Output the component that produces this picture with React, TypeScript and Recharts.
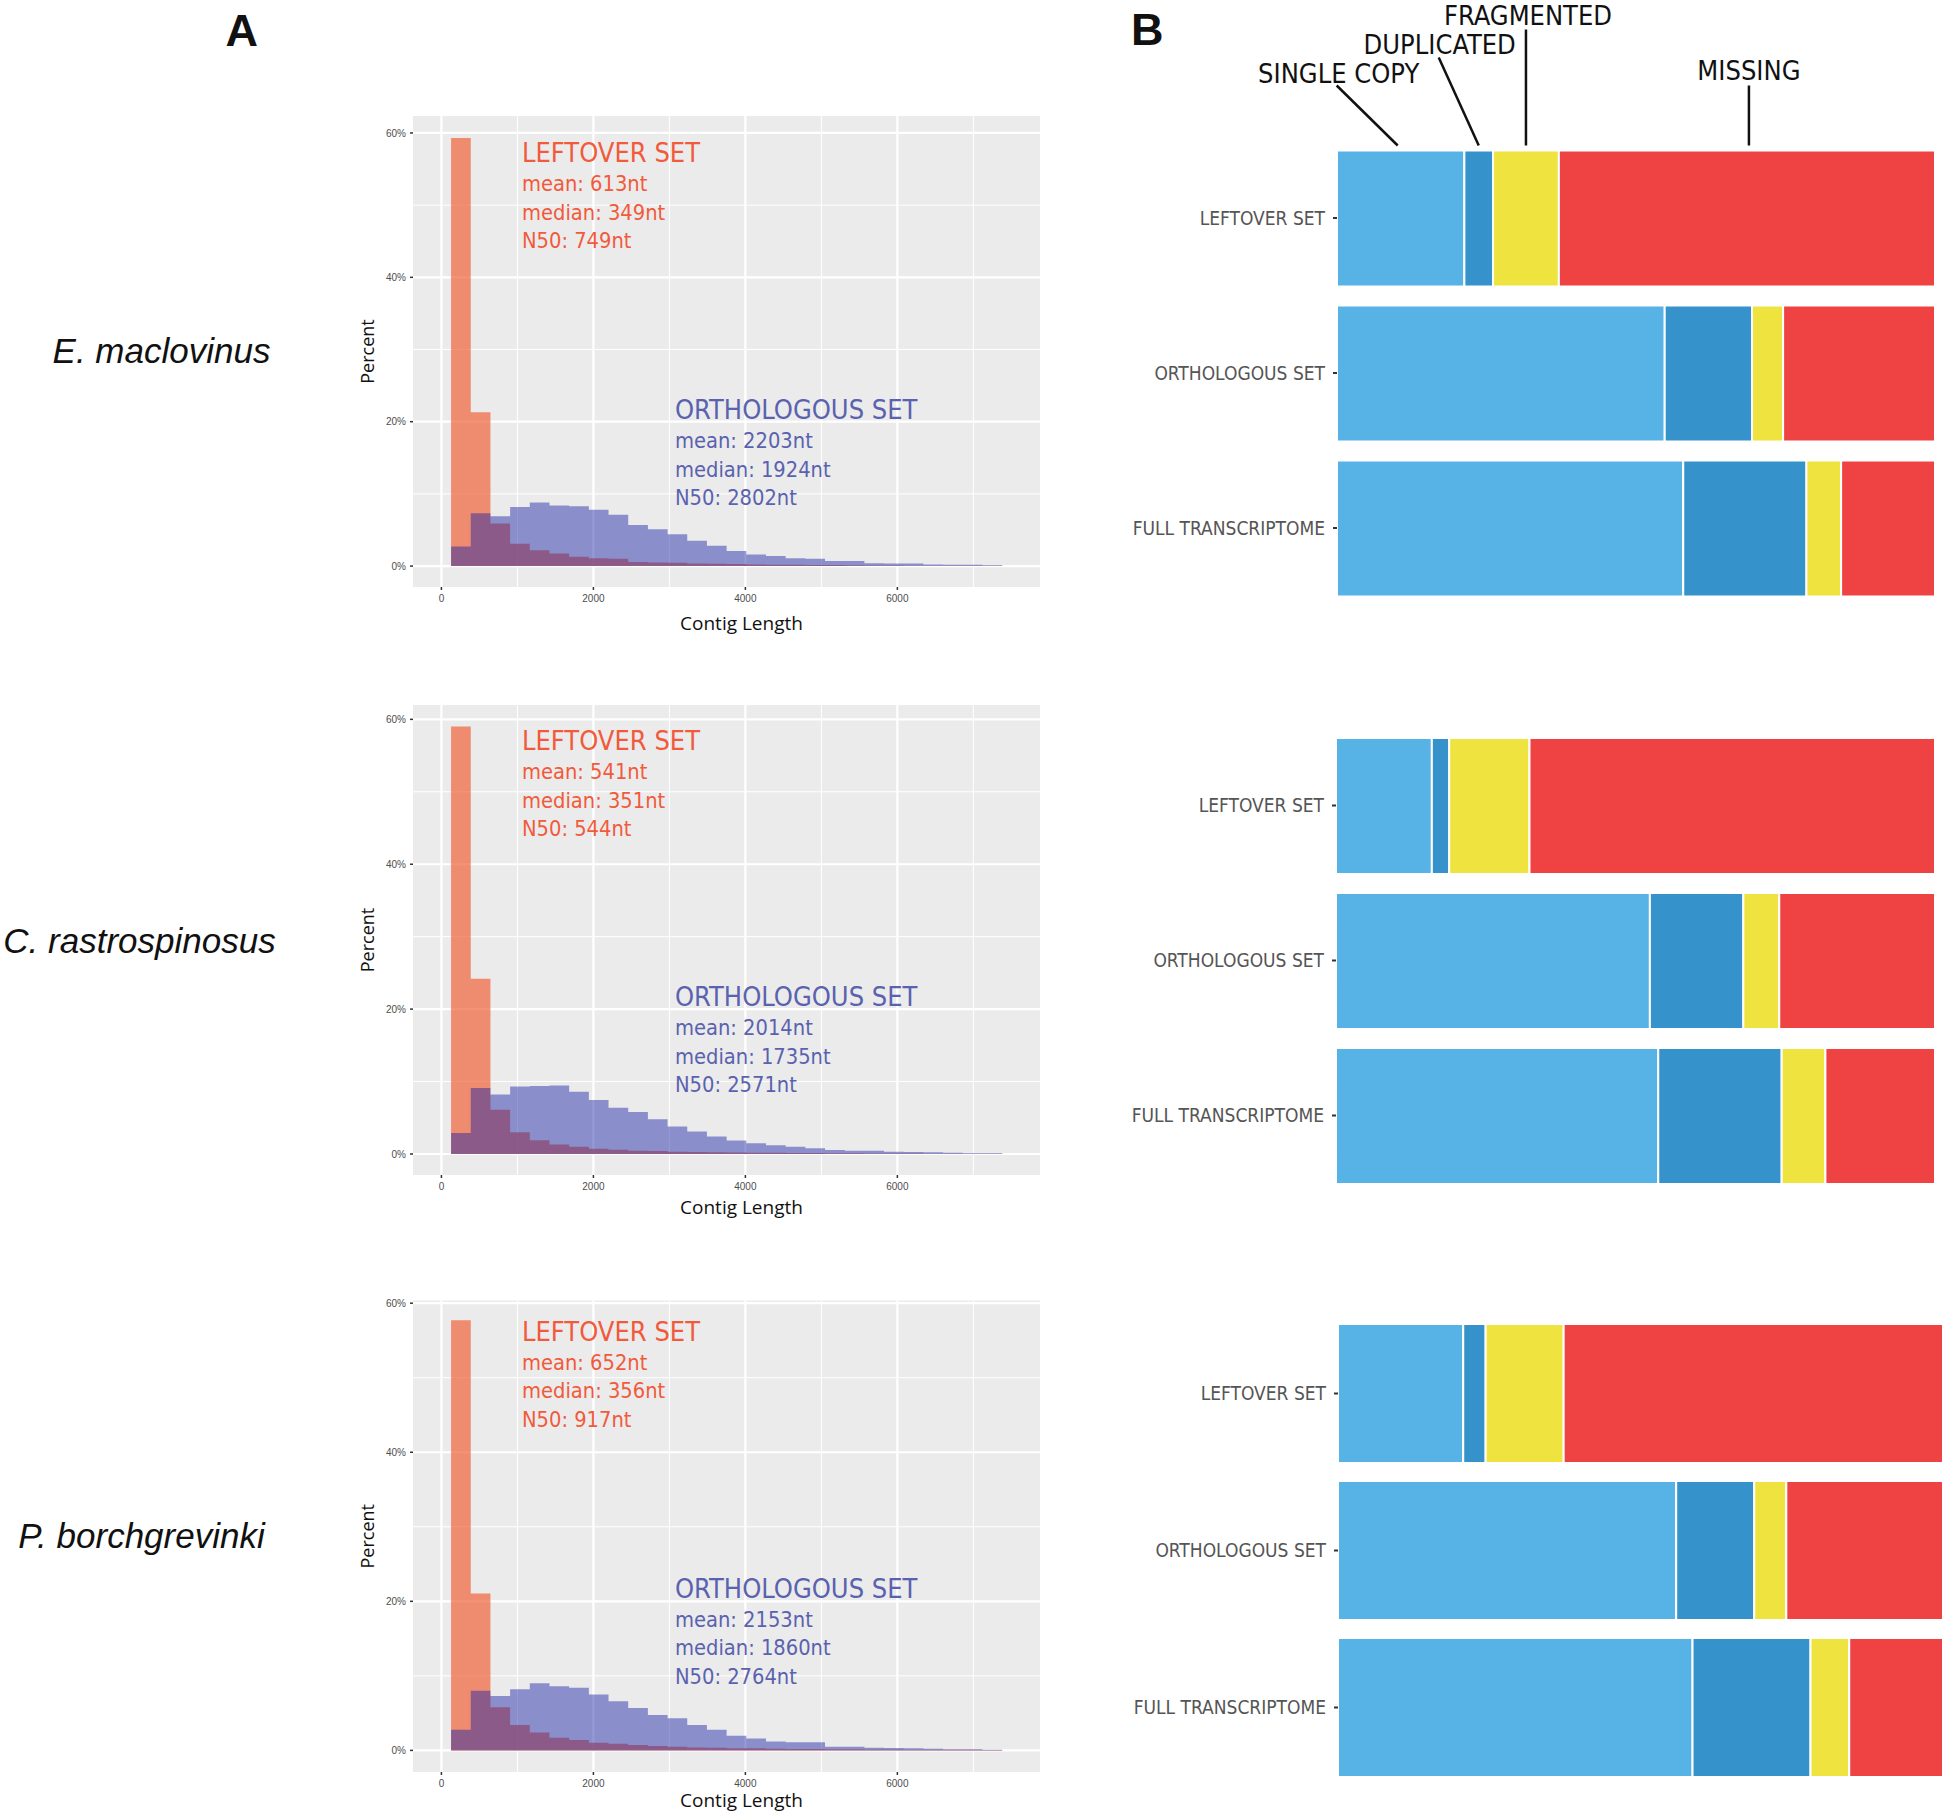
import React from "react";
import {
  Area,
  Bar,
  BarChart,
  CartesianGrid,
  ComposedChart,
  LabelList,
  XAxis,
  YAxis,
} from "recharts";

// histogram bin edges (nt), shared by all three panels
const binEdges = [
  127, 386, 645, 904, 1163, 1422, 1681, 1940, 2199, 2458, 2717, 2976, 3235, 3494,
  3753, 4012, 4271, 4530, 4789, 5048, 5307, 5566, 5825, 6084, 6343, 6602, 6861,
  7120, 7379,
];

// percent of contigs per bin
const emLeftover = [
  59.3, 21.3, 5.9, 3.1, 2.2, 1.75, 1.3, 1.1, 1.0, 0.55, 0.5, 0.45, 0.37, 0.32,
  0.28, 0.23, 0.18, 0.18, 0.14, 0.14, 0.1, 0.08, 0.07, 0.06, 0.05, 0.05, 0.04, 0.03,
];
const emOrtho = [
  2.7, 7.3, 6.9, 8.2, 8.8, 8.4, 8.3, 7.8, 7.1, 5.7, 5.1, 4.4, 3.5, 2.8, 2.1, 1.6,
  1.4, 1.1, 1.0, 0.7, 0.7, 0.4, 0.37, 0.37, 0.23, 0.18, 0.18, 0.1,
];
const crLeftover = [
  59.0, 24.2, 6.1, 3.0, 1.9, 1.3, 1.0, 0.74, 0.6, 0.45, 0.4, 0.32, 0.28, 0.23,
  0.2, 0.18, 0.16, 0.14, 0.12, 0.1, 0.09, 0.08, 0.07, 0.06, 0.05, 0.04, 0.03, 0.03,
];
const crOrtho = [
  2.9, 9.1, 8.2, 9.3, 9.4, 9.45, 8.6, 7.45, 6.4, 5.8, 4.8, 3.8, 3.1, 2.4, 1.85,
  1.5, 1.2, 1.0, 0.78, 0.55, 0.46, 0.46, 0.32, 0.28, 0.23, 0.18, 0.1, 0.1,
];
const pbLeftover = [
  57.7, 21.05, 5.8, 3.4, 2.4, 1.7, 1.4, 1.04, 0.9, 0.72, 0.6, 0.5, 0.4, 0.36, 0.3,
  0.27, 0.22, 0.2, 0.18, 0.16, 0.15, 0.13, 0.12, 0.1, 0.09, 0.08, 0.07, 0.06,
];
const pbOrtho = [
  2.76, 8.0, 7.3, 8.2, 9.0, 8.6, 8.4, 7.5, 6.6, 5.7, 4.75, 4.3, 3.4, 2.76, 1.95,
  1.6, 1.2, 1.1, 1.1, 0.5, 0.5, 0.36, 0.32, 0.27, 0.23, 0.14, 0.14, 0.09,
];

const emLeftoverStats = ["mean: 613nt", "median: 349nt", "N50: 749nt"];
const emOrthoStats = ["mean: 2203nt", "median: 1924nt", "N50: 2802nt"];
const crLeftoverStats = ["mean: 541nt", "median: 351nt", "N50: 544nt"];
const crOrthoStats = ["mean: 2014nt", "median: 1735nt", "N50: 2571nt"];
const pbLeftoverStats = ["mean: 652nt", "median: 356nt", "N50: 917nt"];
const pbOrthoStats = ["mean: 2153nt", "median: 1860nt", "N50: 2764nt"];

const lengthTicks = [0, 2000, 4000, 6000];
const lengthMinor = [1000, 3000, 5000, 7000];
const percentTicks = [0, 20, 40, 60];
const percentMinor = [10, 30, 50];

// BUSCO completeness (%)
const setNames = ["LEFTOVER SET", "ORTHOLOGOUS SET", "FULL TRANSCRIPTOME"];
const buscoClasses = ["SINGLE COPY", "DUPLICATED", "FRAGMENTED", "MISSING"];
const emSingle = [21.3, 54.8, 57.9];
const emDup = [4.8, 14.6, 20.6];
const emFrag = [11.0, 5.2, 5.8];
const emMiss = [62.9, 25.4, 15.7];
const crSingle = [16.0, 52.4, 53.8];
const crDup = [2.9, 15.6, 20.6];
const crFrag = [13.4, 6.0, 7.3];
const crMiss = [67.7, 26.0, 18.3];
const pbSingle = [20.7, 55.9, 58.6];
const pbDup = [3.7, 12.9, 19.5];
const pbFrag = [12.9, 5.3, 6.4];
const pbMiss = [62.7, 25.9, 15.5];

const SANS = "'Liberation Sans', Arial, sans-serif";
const NARROW = "'Liberation Sans Narrow', 'Arial Narrow', 'DejaVu Sans Condensed', sans-serif";
const MYRIAD = "'Open Sans', 'Liberation Sans', sans-serif";
const ORANGE_TXT = "#F15A3B";
const BLUE_TXT = "#5A62AF";
const BUSCO_COLORS = ["#57B3E6", "#3592CA", "#EFE33F", "#EF4343"];

function histRows(leftover: number[], ortho: number[]) {
  const last = leftover.length - 1;
  const rows = leftover.map((v, i) => ({ x: binEdges[i], leftover: v, ortho: ortho[i] }));
  rows.push({ x: binEdges[last + 1], leftover: leftover[last], ortho: ortho[last] });
  return rows;
}

interface HistProps {
  top: number;
  panelTop: number;
  panelBottom: number;
  yMax: number;
  leftover: number[];
  ortho: number[];
}

function Histogram({ top, panelTop, panelBottom, yMax, leftover, ortho }: HistProps) {
  const mTop = panelTop - top;
  const plotH = panelBottom - panelTop;
  return (
    <div style={{ position: "absolute", left: 340, top }}>
      <ComposedChart
        width={720}
        height={mTop + plotH + 30}
        data={histRows(leftover, ortho)}
        margin={{ top: mTop, right: 20, bottom: 0, left: 28 }}
      >
        <CartesianGrid
          fill="#EBEBEB"
          stroke="#fff"
          strokeWidth={1}
          verticalValues={lengthMinor}
          horizontalValues={percentMinor}
        />
        <CartesianGrid
          stroke="#fff"
          strokeWidth={2.2}
          verticalValues={lengthTicks}
          horizontalValues={percentTicks}
        />
        <XAxis
          type="number"
          dataKey="x"
          domain={[-374, 7877]}
          allowDataOverflow
          ticks={lengthTicks}
          interval={0}
          height={30}
          axisLine={false}
          tickSize={3}
          tickMargin={5}
          tickLine={{ stroke: "#333", strokeWidth: 1.5 }}
          tick={{ fontSize: 10, fill: "#4D4D4D", fontFamily: SANS }}
        />
        <YAxis
          type="number"
          domain={[-2.9, yMax]}
          allowDataOverflow
          ticks={percentTicks}
          interval={0}
          width={45}
          axisLine={false}
          tickSize={3}
          tickMargin={4}
          tickLine={{ stroke: "#333", strokeWidth: 1.5 }}
          tick={{ fontSize: 10, fill: "#4D4D4D", fontFamily: SANS }}
          tickFormatter={(v: number) => `${v}%`}
        />
        <Area
          type="stepAfter"
          dataKey="leftover"
          baseValue={0}
          stroke="none"
          fill="#F1633B"
          fillOpacity={0.7}
          dot={false}
          activeDot={false}
          isAnimationActive={false}
        />
        <Area
          type="stepAfter"
          dataKey="ortho"
          baseValue={0}
          stroke="none"
          fill="#131EA6"
          fillOpacity={0.45}
          dot={false}
          activeDot={false}
          isAnimationActive={false}
        />
      </ComposedChart>
    </div>
  );
}

// leader line + label placement for the annotated top bar, relative to segment centre / bar top
const leaderLayout = [
  { x1: -3, y1: -5, x2: -64, y2: -65, tx: -62, ty: -68 },
  { x1: 0, y1: -5, x2: -40, y2: -93, tx: -39, ty: -97 },
  { x1: 0, y1: -5, x2: 0, y2: -121, tx: 2, ty: -126 },
  { x1: 2, y1: -5, x2: 2, y2: -65, tx: 2, ty: -71 },
];

function leader(k: number) {
  return (props: any) => {
    if (props.index !== 0) return null;
    const vb = props.viewBox ?? props;
    const cx = vb.x + vb.width / 2;
    const y = vb.y;
    const L = leaderLayout[k];
    return (
      <g>
        <line
          x1={cx + L.x1}
          y1={y + L.y1}
          x2={cx + L.x2}
          y2={y + L.y2}
          stroke="#111"
          strokeWidth={2.5}
        />
        <text
          x={cx + L.tx}
          y={y + L.ty}
          textAnchor="middle"
          fontSize={27}
          fontFamily={NARROW}
          fill="#111"
        >
          {buscoClasses[k]}
        </text>
      </g>
    );
  };
}

interface BuscoProps {
  top: number;
  plotTop: number;
  band: number;
  barSize: number;
  plotLeft: number;
  plotRight: number;
  values: number[][];
  annotate?: boolean;
}

function BuscoChart({ top, plotTop, band, barSize, plotLeft, plotRight, values, annotate }: BuscoProps) {
  const rows = setNames.map((name, i) => ({
    name,
    single: values[0][i],
    dup: values[1][i],
    frag: values[2][i],
    miss: values[3][i],
  }));
  const keys = ["single", "dup", "frag", "miss"];
  const mTop = plotTop - top;
  return (
    <div style={{ position: "absolute", left: 1100, top }}>
      <BarChart
        layout="vertical"
        width={846}
        height={mTop + band * 3 + 4}
        data={rows}
        margin={{ top: mTop, right: 1946 - plotRight, bottom: 4, left: plotLeft - 1100 - 230 }}
      >
        <XAxis type="number" domain={[0, 100]} hide />
        <YAxis
          type="category"
          dataKey="name"
          width={230}
          axisLine={false}
          tickSize={4}
          tickMargin={8}
          tickLine={{ stroke: "#333", strokeWidth: 2 }}
          tick={{ fontSize: 19, fill: "#555", fontFamily: NARROW }}
        />
        {keys.map((k, i) => (
          <Bar
            key={k}
            dataKey={k}
            stackId="busco"
            fill={BUSCO_COLORS[i]}
            stroke="#fff"
            strokeWidth={2}
            barSize={barSize}
            isAnimationActive={false}
          >
            {annotate ? <LabelList dataKey={k} content={leader(i)} /> : null}
          </Bar>
        ))}
      </BarChart>
    </div>
  );
}

const panels = [
  {
    species: "E. maclovinus",
    speciesX: 161.5,
    speciesY: 363,
    top: 100,
    panelTop: 116,
    panelBottom: 587,
    yMax: 62.35,
    leftover: emLeftover,
    ortho: emOrtho,
    leftoverStats: emLeftoverStats,
    orthoStats: emOrthoStats,
    leftoverY: 162,
    orthoY: 419,
    axisLabelY: 630,
  },
  {
    species: "C. rastrospinosus",
    speciesX: 139.5,
    speciesY: 953,
    top: 690,
    panelTop: 705,
    panelBottom: 1175,
    yMax: 61.98,
    leftover: crLeftover,
    ortho: crOrtho,
    leftoverStats: crLeftoverStats,
    orthoStats: crOrthoStats,
    leftoverY: 750,
    orthoY: 1006,
    axisLabelY: 1213.5,
  },
  {
    species: "P. borchgrevinki",
    speciesX: 141.5,
    speciesY: 1547.5,
    top: 1285,
    panelTop: 1300.5,
    panelBottom: 1772,
    yMax: 60.36,
    leftover: pbLeftover,
    ortho: pbOrtho,
    leftoverStats: pbLeftoverStats,
    orthoStats: pbOrthoStats,
    leftoverY: 1340.8,
    orthoY: 1597.7,
    axisLabelY: 1807,
  },
];

function StatBlock({ x, y, title, lines, color }: { x: number; y: number; title: string; lines: string[]; color: string }) {
  return (
    <g fill={color} fontFamily={NARROW}>
      <text x={x} y={y} fontSize={27}>
        {title}
      </text>
      {lines.map((l, i) => (
        <text key={l} x={x} y={y + 29 + i * 28.6} fontSize={21.7}>
          {l}
        </text>
      ))}
    </g>
  );
}

export default function App() {
  return (
    <div
      style={{
        position: "absolute",
        left: 0,
        top: 0,
        width: 1946,
        height: 1813,
        background: "#fff",
        overflow: "hidden",
      }}
    >
      {panels.map((p) => (
        <Histogram
          key={p.species}
          top={p.top}
          panelTop={p.panelTop}
          panelBottom={p.panelBottom}
          yMax={p.yMax}
          leftover={p.leftover}
          ortho={p.ortho}
        />
      ))}

      <BuscoChart
        top={0}
        plotTop={140.5}
        band={155}
        barSize={136}
        plotLeft={1337}
        plotRight={1935}
        values={[emSingle, emDup, emFrag, emMiss]}
        annotate
      />
      <BuscoChart
        top={700}
        plotTop={728}
        band={155}
        barSize={136}
        plotLeft={1336}
        plotRight={1935}
        values={[crSingle, crDup, crFrag, crMiss]}
      />
      <BuscoChart
        top={1290}
        plotTop={1315}
        band={157}
        barSize={139}
        plotLeft={1338}
        plotRight={1943}
        values={[pbSingle, pbDup, pbFrag, pbMiss]}
      />

      <svg
        width={1946}
        height={1813}
        style={{ position: "absolute", left: 0, top: 0, pointerEvents: "none" }}
      >
        <text x={241.7} y={45.7} textAnchor="middle" fontSize={45} fontWeight="bold" fontFamily={SANS} fill="#111">
          A
        </text>
        <text x={1131} y={45} fontSize={45} fontWeight="bold" fontFamily={SANS} fill="#111">
          B
        </text>
        {panels.map((p) => {
          const mid = (p.panelTop + p.panelBottom) / 2;
          return (
            <g key={p.species}>
              <text
                x={p.speciesX}
                y={p.speciesY}
                textAnchor="middle"
                fontSize={35}
                fontStyle="italic"
                fontFamily={SANS}
                fill="#111"
              >
                {p.species}
              </text>
              <text
                x={374}
                y={mid}
                transform={`rotate(-90 374 ${mid})`}
                textAnchor="middle"
                fontSize={18}
                fontFamily={MYRIAD}
                fill="#111"
              >
                Percent
              </text>
              <text x={741.5} y={p.axisLabelY} textAnchor="middle" fontSize={19} fontFamily={MYRIAD} fill="#111">
                Contig Length
              </text>
              <StatBlock x={522} y={p.leftoverY} title="LEFTOVER SET" lines={p.leftoverStats} color={ORANGE_TXT} />
              <StatBlock x={675} y={p.orthoY} title="ORTHOLOGOUS SET" lines={p.orthoStats} color={BLUE_TXT} />
            </g>
          );
        })}
      </svg>
    </div>
  );
}
